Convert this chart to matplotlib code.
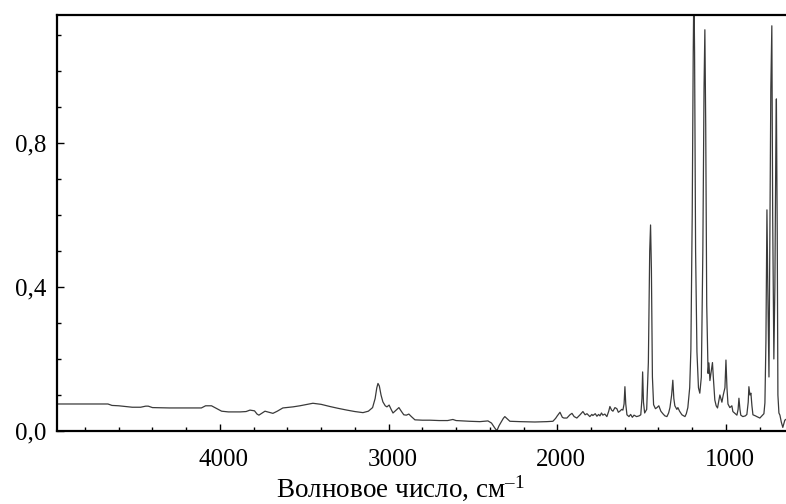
import matplotlib
matplotlib.use("Agg")
import matplotlib.pyplot as plt
import matplotlib.transforms as mtransforms
from matplotlib.ticker import MultipleLocator, FixedLocator, FuncFormatter

plt.rcParams['font.family'] = ['Liberation Serif', 'DejaVu Serif']
plt.rcParams['mathtext.fontset'] = 'custom'
plt.rcParams['mathtext.rm'] = 'Liberation Serif'
plt.rcParams['mathtext.it'] = 'Liberation Serif:italic'

wavenumber = [
    4966, 4830, 4664, 4640, 4600, 4520, 4470, 4440, 4425, 4400, 4300, 4200, 4110, 4085, 4050,
    4030, 3990, 3950, 3880, 3845, 3822, 3795, 3780, 3769, 3750, 3733, 3710, 3686, 3660, 3627,
    3567, 3526, 3449, 3400, 3348, 3300, 3247, 3200, 3152, 3120, 3095, 3080, 3070, 3063, 3055,
    3045, 3034, 3020, 3010, 2997, 2985, 2974, 2955, 2939, 2925, 2910, 2895, 2880, 2865, 2844,
    2800, 2755, 2700, 2650, 2619, 2600, 2520, 2459, 2411, 2390, 2370, 2358, 2345, 2320, 2311,
    2295, 2281, 2222, 2133, 2062, 2026, 2010, 2000, 1984, 1970, 1961, 1943, 1925, 1913, 1900,
    1884, 1865, 1848, 1835, 1824, 1807, 1795, 1789, 1775, 1765, 1755, 1747, 1738, 1730, 1718,
    1706, 1695, 1688, 1678, 1670, 1658, 1647, 1638, 1629, 1618, 1611, 1604, 1599, 1594, 1587,
    1575, 1565, 1555, 1545, 1530, 1515, 1505, 1498, 1494, 1489, 1482, 1470, 1460, 1452, 1447,
    1442, 1436, 1429, 1418, 1409, 1398, 1386, 1374, 1362, 1350, 1340, 1332, 1322, 1315, 1309,
    1303, 1291, 1285, 1275, 1261, 1250, 1243, 1235, 1226, 1215, 1208, 1200, 1194, 1190, 1186,
    1180, 1172, 1163, 1155, 1146, 1137, 1130, 1125, 1120, 1114, 1106, 1101, 1095, 1089, 1080,
    1075, 1066, 1058, 1050, 1036, 1030, 1024, 1016, 1006, 1000, 994, 988, 977, 965, 959,
    945, 935, 928, 923, 917, 912, 900, 885, 876, 868, 864, 858, 852, 846, 840,
    825, 817, 799, 787, 775, 769, 763, 757, 752, 745, 741, 734, 728, 723, 716,
    710, 704, 701, 696, 692, 686, 680, 672, 663, 657, 651, 645,
]
absorbance = [
    0.075, 0.075, 0.075, 0.071, 0.070, 0.066, 0.066, 0.069, 0.069, 0.065, 0.064, 0.064, 0.064, 0.070, 0.070,
    0.065, 0.055, 0.053, 0.053, 0.054, 0.058, 0.056, 0.047, 0.044, 0.050, 0.055, 0.052, 0.049, 0.055, 0.064,
    0.067, 0.070, 0.077, 0.074, 0.068, 0.063, 0.058, 0.054, 0.051, 0.055, 0.065, 0.090, 0.120, 0.132, 0.125,
    0.100, 0.081, 0.070, 0.067, 0.072, 0.060, 0.050, 0.058, 0.065, 0.055, 0.045, 0.044, 0.047, 0.040, 0.031,
    0.030, 0.030, 0.029, 0.029, 0.032, 0.029, 0.027, 0.026, 0.028, 0.022, 0.008, 0.001, 0.015, 0.035, 0.040,
    0.033, 0.027, 0.026, 0.025, 0.026, 0.027, 0.035, 0.042, 0.052, 0.038, 0.036, 0.036, 0.045, 0.049, 0.040,
    0.036, 0.045, 0.054, 0.045, 0.048, 0.040, 0.046, 0.043, 0.048, 0.041, 0.046, 0.042, 0.050, 0.044, 0.047,
    0.040, 0.055, 0.068, 0.058, 0.055, 0.065, 0.062, 0.052, 0.055, 0.060, 0.058, 0.075, 0.123, 0.075, 0.045,
    0.040, 0.046, 0.038, 0.044, 0.040, 0.042, 0.045, 0.090, 0.164, 0.080, 0.050, 0.060, 0.190, 0.500, 0.572,
    0.450, 0.150, 0.073, 0.062, 0.065, 0.070, 0.055, 0.048, 0.042, 0.040, 0.050, 0.065, 0.100, 0.141, 0.090,
    0.070, 0.060, 0.065, 0.055, 0.045, 0.042, 0.040, 0.048, 0.065, 0.120, 0.225, 0.600, 1.050, 1.250, 1.050,
    0.500, 0.220, 0.120, 0.105, 0.150, 0.500, 0.950, 1.114, 0.850, 0.350, 0.160, 0.189, 0.140, 0.160, 0.190,
    0.150, 0.086, 0.070, 0.064, 0.100, 0.090, 0.080, 0.100, 0.120, 0.197, 0.120, 0.075, 0.065, 0.070, 0.054,
    0.048, 0.044, 0.060, 0.091, 0.060, 0.044, 0.040, 0.042, 0.046, 0.080, 0.123, 0.100, 0.105, 0.070, 0.045,
    0.042, 0.040, 0.036, 0.042, 0.048, 0.078, 0.250, 0.614, 0.400, 0.150, 0.450, 0.950, 1.125, 0.600, 0.200,
    0.400, 0.800, 0.922, 0.550, 0.100, 0.050, 0.044, 0.025, 0.010, 0.020, 0.030, 0.032,
]

x_major = [1000, 2000, 3000, 4000]
y_major = [0.0, 0.4, 0.8]

fig = plt.figure(figsize=(7.86, 5.04), dpi=100)
ax = fig.add_axes([57 / 786, 1 - 431 / 504, 1 - 57 / 786, (431 - 15) / 504])
ax.plot(wavenumber, absorbance, color='#3a3a3a', lw=0.9)

ax.set_xlim(4966, 644)
ax.set_ylim(0.0, 1.155)

ax.xaxis.set_major_locator(FixedLocator(x_major))
ax.xaxis.set_minor_locator(MultipleLocator(200))
ax.yaxis.set_major_locator(FixedLocator(y_major))
ax.yaxis.set_minor_locator(MultipleLocator(0.1))
ax.yaxis.set_major_formatter(FuncFormatter(lambda v, p: f"{v:.1f}".replace('.', ',')))

for s in ['left', 'bottom', 'top']:
    ax.spines[s].set_linewidth(1.6)
ax.spines['right'].set_visible(False)

ax.tick_params(which='both', direction='in', labelsize=18, top=False, right=False, width=1)
ax.tick_params(axis='x', which='major', length=5, pad=13)
ax.tick_params(axis='x', which='minor', length=3)
ax.tick_params(axis='y', which='major', length=5, pad=8)
ax.tick_params(axis='y', which='minor', length=3)

# x tick labels sit slightly right of their ticks in the reference
offset = mtransforms.ScaledTranslation(4 / 100, 0, fig.dpi_scale_trans)
for lab in ax.get_xticklabels():
    lab.set_transform(lab.get_transform() + offset)

fig.text(400 / 786, 7 / 504, 'Волновое число, см$^{\\mathregular{–1}}$',
         fontsize=19.5, ha='center', va='baseline')

fig.savefig('out.png', dpi=100)
